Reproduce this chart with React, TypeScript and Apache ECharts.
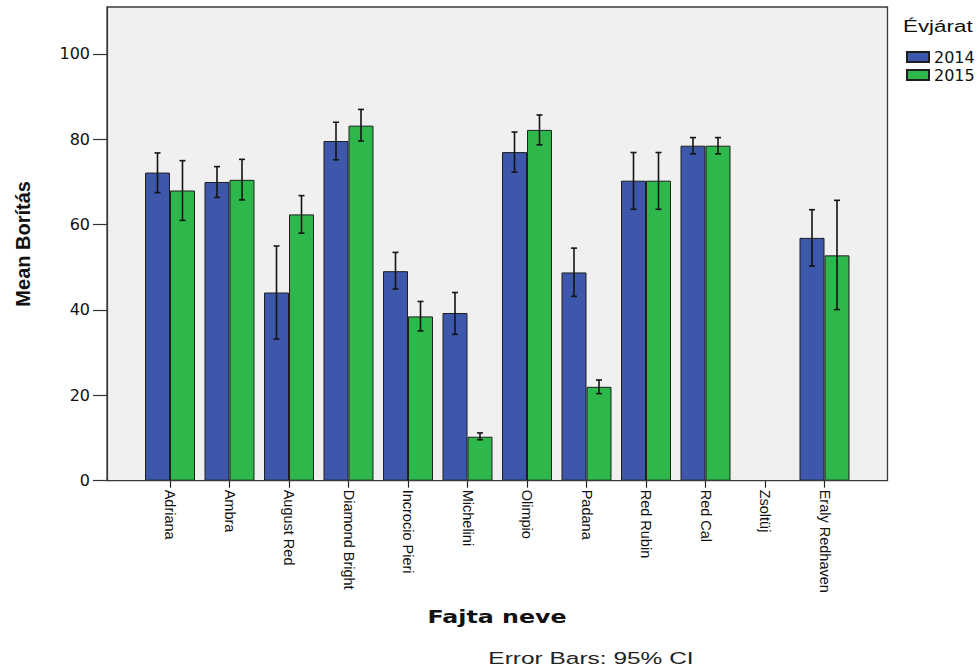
import React, { useEffect, useRef } from "react";
import * as echarts from "echarts";

// Fajta (variety) names along the category axis
const categories = [
  "Adriana",
  "Ambra",
  "August Red",
  "Diamond Bright",
  "Incrocio Pieri",
  "Michelini",
  "Olimpio",
  "Padana",
  "Red Rubin",
  "Red Cal",
  "Zsoltüj",
  "Eraly Redhaven",
];

// Mean Borítás per year, with 95% CI bounds
const mean2014 = [72.2, 70.0, 44.1, 79.6, 49.1, 39.3, 77.0, 48.8, 70.3, 78.5, null, 56.9];
const low2014 = [67.5, 66.4, 33.2, 75.2, 44.9, 34.3, 72.3, 43.2, 63.6, 76.6, null, 50.3];
const high2014 = [76.8, 73.6, 55.0, 84.0, 53.5, 44.1, 81.7, 54.5, 76.9, 80.4, null, 63.5];

const mean2015 = [68.0, 70.5, 62.4, 83.2, 38.5, 10.3, 82.2, 22.0, 70.3, 78.5, null, 52.8];
const low2015 = [61.0, 65.8, 58.0, 79.6, 35.1, 9.6, 78.7, 20.4, 63.6, 76.6, null, 40.1];
const high2015 = [75.0, 75.3, 66.8, 87.0, 42.0, 11.2, 85.7, 23.6, 76.9, 80.4, null, 65.7];

const yearNames = ["2014", "2015"];
const yTicks = [0, 20, 40, 60, 80, 100];

const BLUE = "#3d57aa";
const GREEN = "#2eb84b";
const BAR_SHARE = 0.42;

function ciData(low: (number | null)[], high: (number | null)[]) {
  const out: number[][] = [];
  low.forEach((lo, i) => {
    const hi = high[i];
    if (lo != null && hi != null) out.push([i, lo, hi]);
  });
  return out;
}

function errorBarRenderer(side: number) {
  return (params: any, api: any) => {
    const idx = api.value(0);
    const lo = api.coord([idx, api.value(1)]);
    const hi = api.coord([idx, api.value(2)]);
    const band = api.size([1, 0])[0];
    const x = lo[0] + (side * band * BAR_SHARE) / 2;
    const cap = 3;
    const style = { stroke: "#141414", lineWidth: 1.6 };
    return {
      type: "group",
      children: [
        { type: "line", shape: { x1: x, y1: hi[1], x2: x, y2: lo[1] }, style },
        { type: "line", shape: { x1: x - cap, y1: hi[1], x2: x + cap, y2: hi[1] }, style },
        { type: "line", shape: { x1: x - cap, y1: lo[1], x2: x + cap, y2: lo[1] }, style },
      ],
    };
  };
}

export default function App() {
  const ref = useRef<HTMLDivElement>(null);

  useEffect(() => {
    if (!ref.current) return;
    const chart = echarts.init(ref.current, null, { renderer: "svg" });

    const barStyle = (color: string) => ({
      color,
      borderColor: "#1e1e1e",
      borderWidth: 1,
    });

    chart.setOption({
      animation: false,
      backgroundColor: "#ffffff",
      grid: {
        left: 140.25,
        width: 714,
        top: 7,
        bottom: 187.3,
        containLabel: false,
      },
      legend: {
        data: yearNames,
        orient: "vertical",
        left: 901,
        top: 44,
        itemWidth: 22,
        itemHeight: 10,
        itemGap: 2,
        icon: "rect",
        textStyle: {
          fontFamily: "DejaVu Sans",
          fontSize: 16,
          lineHeight: 16,
          color: "#111",
        },
      },
      xAxis: {
        type: "category",
        data: categories,
        axisLine: { show: false },
        axisTick: {
          show: true,
          alignWithLabel: true,
          length: 7,
          lineStyle: { color: "#222", width: 1.2 },
        },
        axisLabel: {
          rotate: -90,
          interval: 0,
          margin: 9,
          fontFamily: "Liberation Sans",
          fontSize: 14.5,
          color: "#111",
        },
      },
      yAxis: {
        type: "value",
        min: 0,
        max: 111,
        interval: 20,
        offset: 33.25,
        name: "Mean Borítás",
        nameLocation: "middle",
        nameGap: 74,
        nameTextStyle: {
          fontFamily: "Liberation Sans",
          fontWeight: "bold",
          fontSize: 20,
          color: "#111",
        },
        splitLine: { show: false },
        axisLine: { show: true, lineStyle: { color: "#333", width: 1.2 } },
        axisTick: { show: true, length: 14, lineStyle: { color: "#333", width: 1.2 } },
        axisLabel: {
          margin: 17,
          showMaxLabel: false,
          fontFamily: "DejaVu Sans",
          fontSize: 16,
          color: "#111",
          formatter: (v: number) => (yTicks.includes(v) ? String(v) : ""),
        },
      },
      graphic: [
        {
          type: "rect",
          z: -10,
          silent: true,
          shape: { x: 107, y: 7, width: 780.5, height: 473.7 },
          style: { fill: "#f0f0f0" },
        },
        {
          type: "rect",
          z: 60,
          silent: true,
          shape: { x: 107, y: 7, width: 780.5, height: 473.7 },
          style: { fill: "none", stroke: "#3a3a3a", lineWidth: 1.3 },
        },
        {
          type: "text",
          x: 903,
          y: 26,
          scaleX: 1.4,
          style: {
            text: "Évjárat",
            fontFamily: "Liberation Sans",
            fontSize: 16,
            fill: "#111",
            textVerticalAlign: "middle",
          },
        },
        {
          type: "text",
          x: 497,
          y: 617,
          scaleX: 1.32,
          style: {
            text: "Fajta neve",
            fontFamily: "DejaVu Sans",
            fontWeight: "bold",
            fontSize: 18,
            fill: "#111",
            textAlign: "center",
            textVerticalAlign: "middle",
          },
        },
        {
          type: "text",
          x: 591,
          y: 658,
          scaleX: 1.44,
          style: {
            text: "Error Bars: 95% CI",
            fontFamily: "Liberation Sans",
            fontSize: 17,
            fill: "#222",
            textAlign: "center",
            textVerticalAlign: "middle",
          },
        },
      ],
      series: [
        {
          name: yearNames[0],
          type: "bar",
          data: mean2014,
          barWidth: `${BAR_SHARE * 100}%`,
          barGap: "0%",
          itemStyle: barStyle(BLUE),
          z: 3,
        },
        {
          name: yearNames[1],
          type: "bar",
          data: mean2015,
          barWidth: `${BAR_SHARE * 100}%`,
          barGap: "0%",
          itemStyle: barStyle(GREEN),
          z: 3,
        },
        {
          name: "CI 2014",
          type: "custom",
          data: ciData(low2014, high2014),
          encode: { x: 0, y: [1, 2] },
          renderItem: errorBarRenderer(-1),
          z: 10,
          silent: true,
        },
        {
          name: "CI 2015",
          type: "custom",
          data: ciData(low2015, high2015),
          encode: { x: 0, y: [1, 2] },
          renderItem: errorBarRenderer(1),
          z: 10,
          silent: true,
        },
      ],
    });

    return () => chart.dispose();
  }, []);

  return (
    <div
      ref={ref}
      style={{ position: "fixed", left: 0, top: 0, width: 980, height: 668 }}
    />
  );
}
